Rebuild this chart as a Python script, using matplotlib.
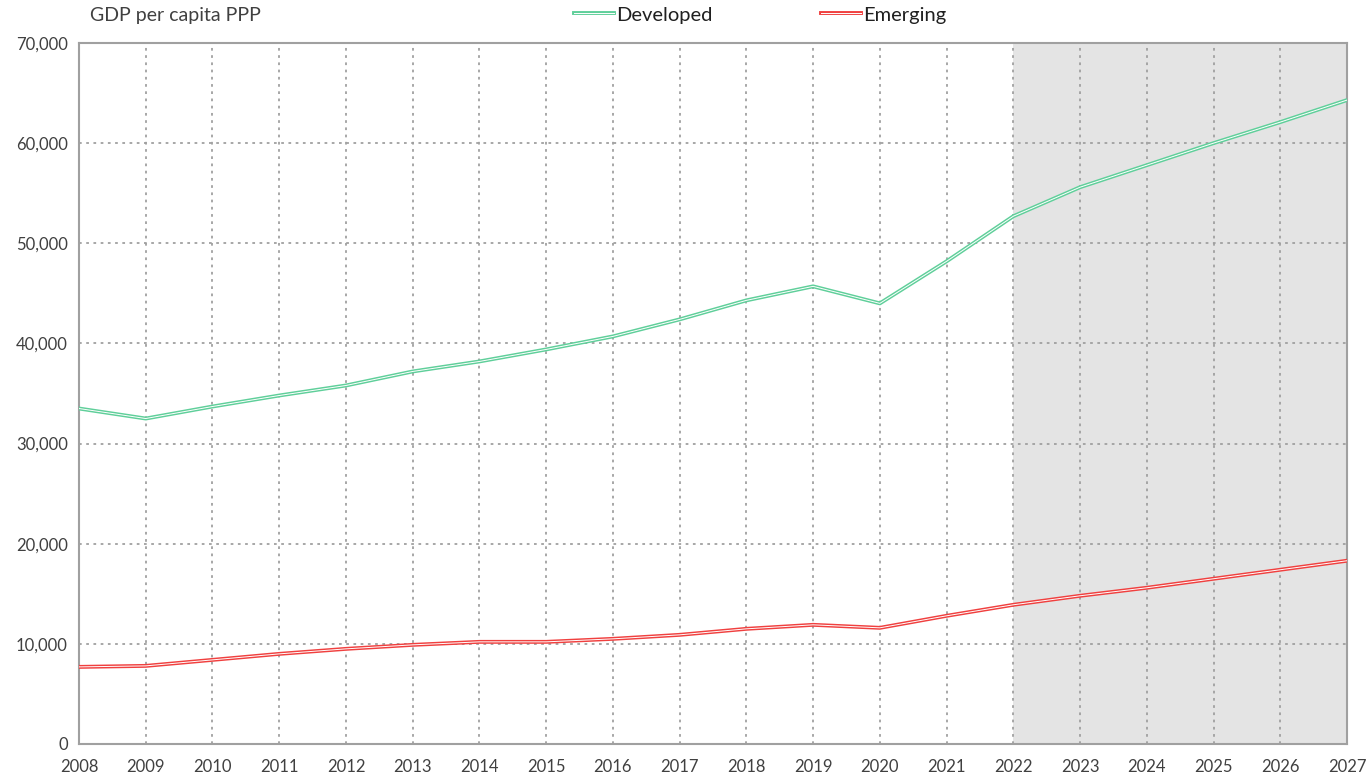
import matplotlib
matplotlib.use("Agg")
import matplotlib.pyplot as plt
from matplotlib.ticker import FuncFormatter
import matplotlib.patheffects as pe

years = list(range(2008, 2028))
developed = [33500, 32500, 33700, 34800, 35800, 37200, 38200, 39400, 40700, 42400,
             44300, 45700, 44000, 48200, 52700, 55600, 57800, 60000, 62100, 64300]
emerging = [7700, 7800, 8400, 9000, 9500, 9900, 10200, 10200, 10500, 10900,
            11500, 11900, 11600, 12800, 13900, 14800, 15600, 16500, 17400, 18300]
forecast_start = 2022

GREEN = "#5fcf9a"
RED = "#f0403f"
GRID = "#a0a0a0"
TEXT = "#404040"

plt.rcParams["font.family"] = ["Lato", "DejaVu Sans"]

fig = plt.figure(figsize=(13.67, 7.74), dpi=100)
ax = fig.add_axes([79 / 1367, 1 - 744 / 774, (1347 - 79) / 1367, (744 - 43) / 774])

ax.axvspan(forecast_start, years[-1], color="#e4e4e4", zorder=0, lw=0)

# double-line look: coloured stroke with a thin white core
for vals, col, name in [(developed, GREEN, "Developed"), (emerging, RED, "Emerging")]:
    ax.plot(years, vals, color="white", lw=0.7, zorder=3, label=name,
            path_effects=[pe.Stroke(linewidth=2.8, foreground=col), pe.Normal()])

ax.set_xlim(years[0], years[-1])
ax.set_ylim(0, 70000)
ax.set_xticks(years)
ax.set_yticks(range(0, 70001, 10000))
ax.yaxis.set_major_formatter(FuncFormatter(lambda v, p: f"{int(v):,}"))
ax.grid(True, color=GRID, ls=(0, (1.5, 2.5)), lw=1.3, zorder=1)
ax.set_axisbelow(True)
ax.tick_params(length=0, labelsize=12, colors=TEXT, pad=8)
ax.tick_params(axis="x", pad=11)
for s in ax.spines.values():
    s.set_color("#a0a0a0")
    s.set_linewidth(1.5)

fig.text(90 / 1367, 1 - 16 / 774, "GDP per capita PPP", fontsize=14, color=TEXT,
         va="center", ha="left")
leg = fig.legend(loc="center", bbox_to_anchor=(760 / 1367, 1 - 15 / 774), ncol=2,
                 frameon=False, fontsize=14.5, handlelength=2.0, handletextpad=0.1,
                 columnspacing=5.4)
for t in leg.get_texts():
    t.set_color("#202020")

fig.savefig("out.png", dpi=100)
